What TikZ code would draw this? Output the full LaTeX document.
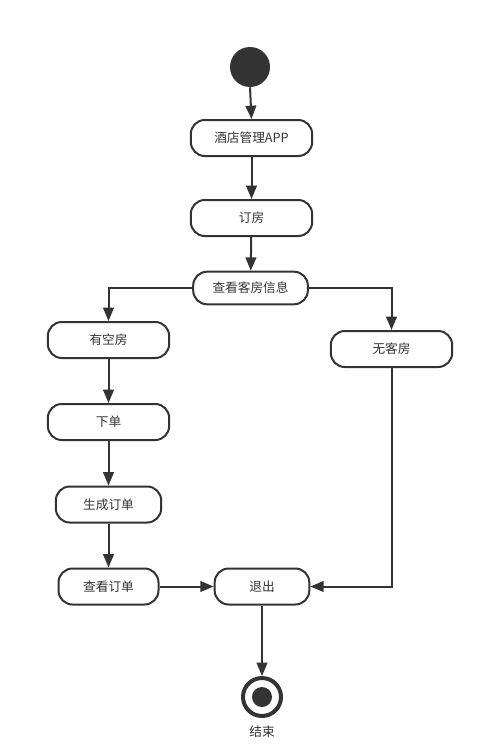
\documentclass[tikz,border=0pt]{standalone}
\usepackage{fontspec}
\setmainfont{Noto Sans CJK SC}
\usetikzlibrary{arrows.meta}
\definecolor{ink}{HTML}{333333}
\begin{document}
\begin{tikzpicture}[x=0.75pt,y=-0.75pt,
  act/.style={draw=ink,line width=1.5pt,rounded corners=10.5pt,minimum height=27pt,inner sep=0pt,font=\fontsize{9.5pt}{11pt}\selectfont,text=ink},
  flow/.style={draw=ink,line width=1.5pt,-{Triangle[length=10pt,width=8pt]}}]
\useasboundingbox (0,0) rectangle (483,749);
\fill[ink] (250,67) circle[radius=15pt];
\node[circle,minimum size=30pt,inner sep=0pt] (start) at (250,67) {};
\node[act,minimum width=91pt] (app) at (251.5,138) {酒店管理APP};
\node[act,minimum width=91pt] (book) at (251.5,218) {订房};
\node[act,minimum width=86pt,minimum height=24.5pt] (info) at (250.5,288) {查看客房信息};
\node[act,minimum width=91pt] (avail) at (108.5,340) {有空房};
\node[act,minimum width=91pt] (none) at (391.5,349) {无客房};
\node[act,minimum width=91pt] (order) at (108.5,422) {下单};
\node[act,minimum width=79pt] (gen) at (108.5,504.5) {生成订单};
\node[act,minimum width=75pt] (view) at (108.5,586.5) {查看订单};
\node[act,minimum width=71pt] (quit) at (262,586.5) {退出};
\node[circle,draw=ink,line width=3pt,minimum size=28.5pt,inner sep=0pt] (end) at (262,697) {};
\fill[ink] (end.center) circle[radius=7.5pt];
\node[font=\fontsize{9.5pt}{11pt}\selectfont,text=ink] (endlbl) at (262,732) {结束};
\draw[flow] (start.south) -- (app.north);
\draw[flow] (app) -- (book);
\draw[flow] (book) -- (info);
\draw[flow] (info.west) -| (avail.north);
\draw[flow] (info.east) -| (none.north);
\draw[flow] (avail) -- (order);
\draw[flow] (order) -- (gen);
\draw[flow] (gen) -- (view);
\draw[flow] (view) -- (quit);
\draw[flow] (none.south) |- (quit.east);
\draw[flow] (quit) -- (end);
\end{tikzpicture}
\end{document}
